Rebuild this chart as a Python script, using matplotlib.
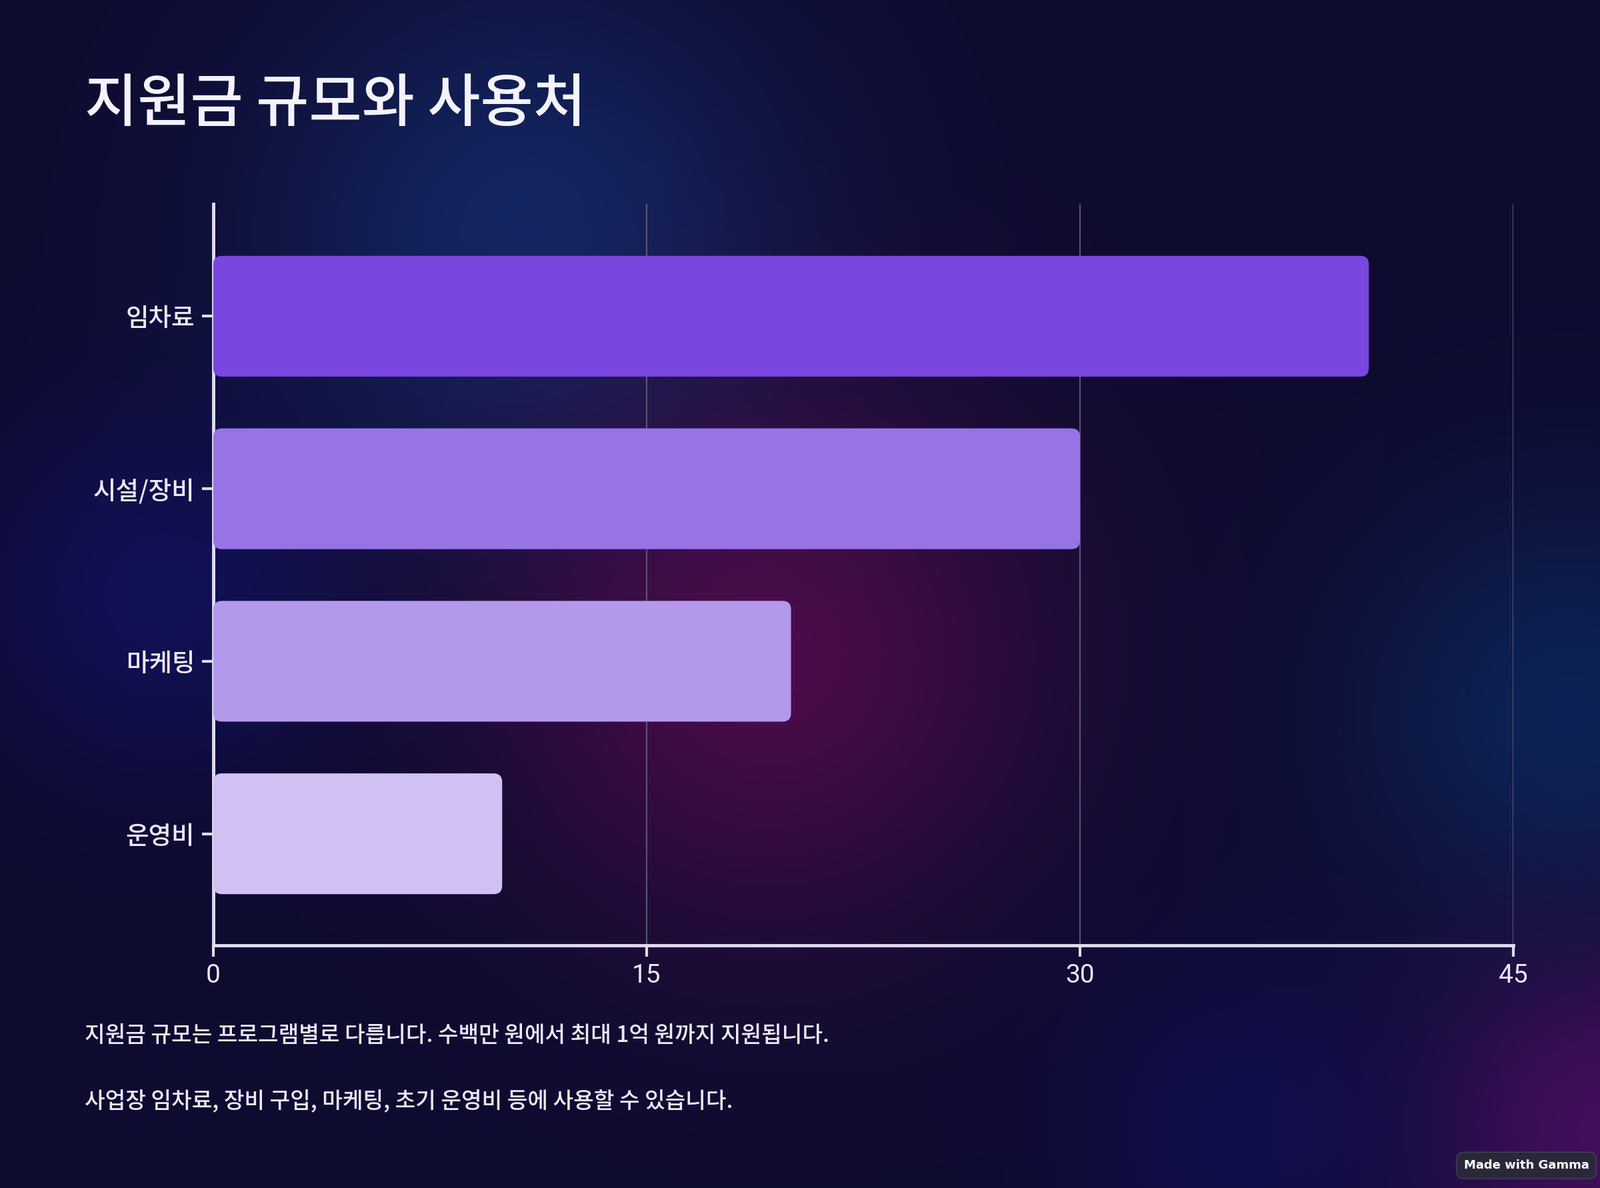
import numpy as np
import matplotlib
matplotlib.use("Agg")
import matplotlib.pyplot as plt
from matplotlib.patches import FancyBboxPatch
from matplotlib import font_manager as fm

categories = ["임차료", "시설/장비", "마케팅", "운영비"]
values = [40, 30, 20, 10]
bar_colors = ["#7946df", "#9873e6", "#b398ec", "#d1c0f3"]
xticks = [0, 15, 30, 45]
title = "지원금 규모와 사용처"
notes = ["지원금 규모는 프로그램별로 다릅니다. 수백만 원에서 최대 1억 원까지 지원됩니다.",
         "사업장 임차료, 장비 구입, 마케팅, 초기 운영비 등에 사용할 수 있습니다."]

def cjk_props(size, light=False):
    names = ["Noto Sans CJK KR", "Noto Sans CJK SC", "Noto Sans CJK JP", "Noto Sans CJK TC"]
    cands = [f for f in fm.findSystemFonts() if "CJK" in f or "cjk" in f.lower()]
    pick = None
    for f in cands:
        low = f.lower()
        if ("light" in low) == light and "mono" not in low and "bold" not in low:
            pick = f; break
    if pick is None and cands:
        pick = sorted(cands, key=lambda s: ("regular" not in s.lower(), "bold" in s.lower()))[0]
    if pick:
        return fm.FontProperties(fname=pick, size=size)
    return fm.FontProperties(family=names, size=size)

fig = plt.figure(figsize=(24, 17.82), dpi=100)

H, W = 446, 600
yy, xx = np.mgrid[0:H, 0:W]
xx = xx / W; yy = yy / H
img = np.zeros((H, W, 3)) + np.array([14, 11, 48]) / 255
def glow(cx, cy, r, col, a):
    d = np.sqrt(((xx - cx) * 1.33) ** 2 + (yy - cy) ** 2)
    w = a * np.exp(-(d / r) ** 2)
    return w[..., None] * (np.array(col) / 255 - img)
img += glow(0.33, 0.2, 0.22, (20, 45, 110), 0.8)
img += glow(0.48, 0.55, 0.22, (90, 12, 80), 0.8)
img += glow(0.1, 0.5, 0.15, (18, 20, 110), 0.6)
img += glow(0.98, 0.6, 0.18, (12, 45, 100), 0.7)
img += glow(1.0, 0.95, 0.15, (80, 15, 100), 0.8)
img += glow(0.78, 0.95, 0.15, (18, 18, 100), 0.5)
bg = fig.add_axes([0, 0, 1, 1])
bg.imshow(np.clip(img, 0, 1), aspect="auto", extent=[0, 1, 0, 1], interpolation="bilinear")
bg.axis("off")

ax = fig.add_axes([0.1333, 0.2045, 0.8125, 0.6237])
ax.set_facecolor("none")
ax.set_xlim(0, 45)
ax.set_ylim(3.645, -0.65)
ypos = np.arange(len(categories))
bars = ax.barh(ypos, values, height=0.7, color=bar_colors)
for b in bars:
    b.set_visible(False)
    p = FancyBboxPatch((b.get_x(), b.get_y()), b.get_width(), b.get_height(),
                       boxstyle="round,pad=0,rounding_size=0.3", mutation_aspect=0.168,
                       fc=b.get_facecolor(), ec="none", zorder=3)
    ax.add_patch(p)
ax.set_yticks(ypos)
ax.set_yticklabels(categories, fontproperties=cjk_props(27), color="#ece8f6")
ax.set_xticks(xticks)
ax.set_xticklabels([str(t) for t in xticks], fontfamily="Roboto", fontsize=28, color="#ece8f6")
ax.tick_params(axis="both", colors="#e0dcef", width=3, length=12, pad=8)
for lab in ax.get_xticklabels() + ax.get_yticklabels():
    lab.set_color("#ece8f6")
ax.grid(axis="x", color="#5a5478", lw=1.5, zorder=0)
for s in ["top", "right"]:
    ax.spines[s].set_visible(False)
for s in ["left", "bottom"]:
    ax.spines[s].set_color("#e0dcef"); ax.spines[s].set_linewidth(3.5)

fig.text(0.053, 0.912, title, fontproperties=cjk_props(62), color="#f4f2fa", va="center")
fig.text(0.053, 0.128, notes[0], fontproperties=cjk_props(24), color="#ece8f6", va="center")
fig.text(0.053, 0.073, notes[1], fontproperties=cjk_props(24), color="#ece8f6", va="center")
fig.text(0.954, 0.019, "Made with Gamma", fontsize=13, color="#ffffff", ha="center", va="center",
         fontweight="bold", bbox=dict(boxstyle="round,pad=0.6", fc="#2a2838", ec="#44425a"))
fig.savefig("out.png", dpi=100)
